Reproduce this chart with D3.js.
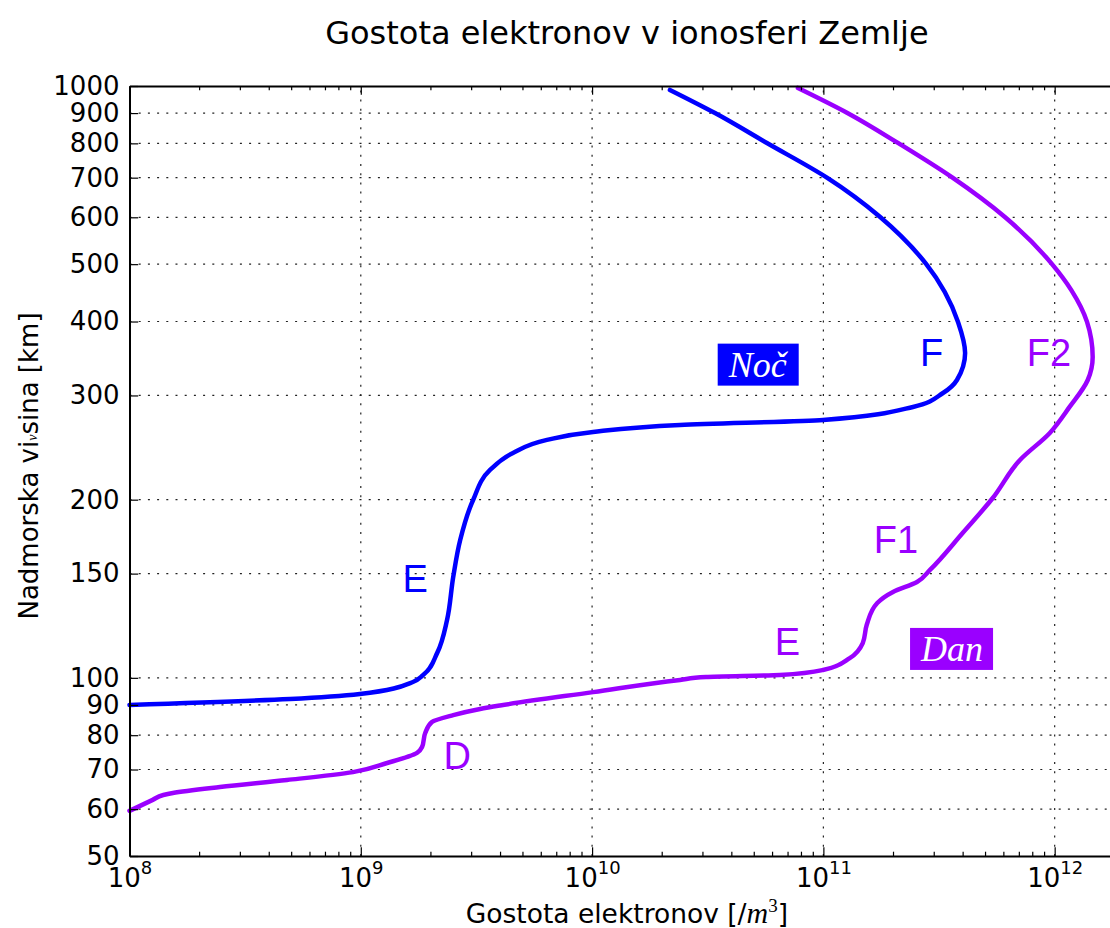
<!DOCTYPE html>
<html><head><meta charset="utf-8">
<script src="https://cdn.jsdelivr.net/npm/d3@7"></script>
<style>
html,body{margin:0;padding:0;background:#fff;overflow:hidden;}
svg{display:block;}
</style></head><body>
<svg id="chart" width="1110" height="928"></svg>
<script>
// ---- data (electron density [/m^3] vs. altitude [km]) ----
const nightDensity = [1.0e8, 4.94e8, 9.9e8, 1.68e9, 1.86e9, 2.14e9, 2.36e9, 2.51e9, 2.69e9, 3.06e9, 3.62e9, 4.55e9, 6.38e9, 1.01e10, 2.4e10, 9.96e10, 2.44e11, 3.29e11, 3.78e11, 4.1e11, 3.82e11, 2.78e11, 1.76e11, 1.04e11, 5.7e10, 3.4e10, 2.17e10];
const nightHeight  = [90, 92.1, 93.9, 98.4, 101.1, 110.2, 125.2, 148.1, 171, 199.8, 224.5, 239.9, 252.4, 260.3, 267.4, 272.7, 286.9, 302.9, 318.6, 354, 399.4, 500.6, 600.7, 699.4, 801, 900, 984.7];

const dayDensity = [1.0e8, 1.26e8, 1.40e8, 1.54e8, 2.46e8, 4.8e8, 9.25e8, 1.30e9, 1.75e9, 1.84e9, 1.90e9, 2.03e9, 2.51e9, 3.28e9, 4.0e9, 1.01e10, 2.40e10, 3.11e10, 6.48e10, 9.96e10, 1.30e11, 1.48e11, 1.54e11, 1.71e11, 2.0e11, 2.54e11, 2.89e11, 4.0e11, 5.4e11, 7.08e11, 9.53e11, 1.16e12, 1.39e12, 1.46e12, 1.38e12, 1.18e12, 9.72e11, 6.09e11, 3.63e11, 2.1e11, 1.27e11, 7.76e10];
const dayHeight  = [59.6, 62.2, 63.4, 63.9, 65.4, 67.2, 69.3, 71.8, 74.7, 76.4, 80.7, 84.2, 86.5, 88.6, 89.8, 94.6, 99.2, 100.3, 101.1, 103.1, 108.0, 114.5, 122.9, 133.8, 139.7, 145.2, 152.2, 175.7, 201.3, 233.4, 259.3, 286.9, 318.6, 348.5, 399.4, 452, 500.6, 600.7, 699.4, 801.4, 900.5, 992.4];

const xDomain = [1e8, 2e12];
const yDomain = [50, 1000];
const xMajorTicks = [1e8, 1e9, 1e10, 1e11, 1e12];
const yTicks = [50, 60, 70, 80, 90, 100, 150, 200, 300, 400, 500, 600, 700, 800, 900, 1000];

const layerLabels = [
  {text: "E",  series: "night", n: 1.72e9,  h: 139.7},
  {text: "F",  series: "night", n: 2.94e11, h: 336.9},
  {text: "D",  series: "day",   n: 2.61e9,  h: 70.2},
  {text: "E",  series: "day",   n: 7.0e10,  h: 109.3},
  {text: "F1", series: "day",   n: 2.06e11, h: 162.7},
  {text: "F2", series: "day",   n: 9.44e11, h: 336.9}
];
const boxLabels = [
  {text: "Noč", series: "night", n: 5.2e10, h: 322.8},
  {text: "Dan", series: "day",   n: 3.6e11, h: 106.8}
];

const titleText = "Gostota elektronov v ionosferi Zemlje";
const colors = {night: "#0000ff", day: "#9a00ff"};

// ---- layout ----
const L = 129.5, R = 1124.3, T = 86, B = 856;
const svg = d3.select("#chart");
const x = d3.scaleLog().domain(xDomain).range([L, R]);
const y = d3.scaleLog().domain(yDomain).range([B, T]);

const minorTicks = [];
for (let k = 8; k <= 12; k++) for (let m = 2; m <= 9; m++) {
  const v = m * Math.pow(10, k);
  if (v <= xDomain[1]) minorTicks.push(v);
}

// grid
const grid = svg.append("g").attr("stroke", "#222").attr("stroke-width", 1.2).attr("stroke-dasharray", "2,7.2");
grid.selectAll("line.v").data(xMajorTicks.filter(d => d > xDomain[0])).join("line")
  .attr("class", "v").attr("x1", d => x(d)).attr("x2", d => x(d)).attr("y1", B).attr("y2", T);
grid.selectAll("line.h").data(yTicks.filter(d => d > yDomain[0] && d < yDomain[1])).join("line")
  .attr("class", "h").attr("x1", L).attr("x2", R).attr("y1", d => y(d)).attr("y2", d => y(d));

// curves (density as a smooth function of altitude)
const line = d3.line().x(d => x(d[0])).y(d => y(d[1])).curve(d3.curveMonotoneY);
const nightPts = d3.zip(nightDensity, nightHeight).reverse();
const dayPts = d3.zip(dayDensity, dayHeight).reverse();
svg.append("path").datum(nightPts).attr("d", line)
  .attr("fill", "none").attr("stroke", colors.night).attr("stroke-width", 4.5).attr("stroke-linejoin", "round").attr("stroke-linecap", "round");
svg.append("path").datum(dayPts).attr("d", line)
  .attr("fill", "none").attr("stroke", colors.day).attr("stroke-width", 4.5).attr("stroke-linejoin", "round").attr("stroke-linecap", "round");

// axes
function styleAxis(g) {
  g.select(".domain").attr("stroke", "#000").attr("stroke-width", 2);
  g.selectAll(".tick line").attr("stroke", "#000").attr("stroke-width", 1.2);
}
const gB = svg.append("g").attr("transform", `translate(0,${B})`)
  .call(d3.axisBottom(x).tickValues(xMajorTicks).tickSizeInner(-8.7).tickSizeOuter(0).tickFormat(() => "10"));
styleAxis(gB);
gB.selectAll(".tick text").attr("y", 31).attr("dy", 0)
  .attr("font-family", "DejaVu Sans").attr("font-size", 26).attr("fill", "#000")
  .append("tspan").attr("dy", -13).attr("font-size", 18).text(d => Math.round(Math.log10(d)));
const gBm = svg.append("g").attr("transform", `translate(0,${B})`)
  .call(d3.axisBottom(x).tickValues(minorTicks).tickSizeInner(-4.3).tickSizeOuter(0).tickFormat(() => ""));
gBm.select(".domain").remove();
gBm.selectAll(".tick line").attr("stroke", "#000").attr("stroke-width", 1.2);

const gT = svg.append("g").attr("transform", `translate(0,${T})`)
  .call(d3.axisTop(x).tickValues(xMajorTicks).tickSizeInner(-8.7).tickSizeOuter(0).tickFormat(() => ""));
styleAxis(gT);
const gTm = svg.append("g").attr("transform", `translate(0,${T})`)
  .call(d3.axisTop(x).tickValues(minorTicks).tickSizeInner(-4.3).tickSizeOuter(0).tickFormat(() => ""));
gTm.select(".domain").remove();
gTm.selectAll(".tick line").attr("stroke", "#000").attr("stroke-width", 1.2);

const gL = svg.append("g").attr("transform", `translate(${L},0)`)
  .call(d3.axisLeft(y).tickValues(yTicks).tickSizeInner(-8.7).tickSizeOuter(0).tickPadding(10).tickFormat(d3.format("d")));
styleAxis(gL);
gL.selectAll(".tick text").attr("font-family", "DejaVu Sans").attr("font-size", 26).attr("fill", "#000");

const gR = svg.append("g").attr("transform", `translate(${R},0)`)
  .call(d3.axisRight(y).tickValues(yTicks).tickSizeInner(-8.7).tickSizeOuter(0).tickFormat(() => ""));
styleAxis(gR);

// layer labels
svg.append("g").selectAll("text").data(layerLabels).join("text")
  .attr("x", d => x(d.n)).attr("y", d => y(d.h))
  .attr("text-anchor", "middle").attr("font-family", "Liberation Sans, Arial, sans-serif")
  .attr("font-size", 38).attr("fill", d => colors[d.series]).text(d => d.text);

// boxed labels
const bg = svg.append("g").selectAll("g").data(boxLabels).join("g");
bg.each(function(d) {
  const g = d3.select(this);
  const rect = g.append("rect").attr("fill", colors[d.series]);
  const t = g.append("text").attr("x", x(d.n)).attr("y", y(d.h)).attr("text-anchor", "middle")
    .attr("font-family", "Liberation Serif, Times New Roman, serif").attr("font-style", "italic")
    .attr("font-size", 36).attr("fill", "#fff").text(d.text);
  const bb = t.node().getBBox();
  rect.attr("x", bb.x - 10).attr("y", bb.y - 1).attr("width", bb.width + 20).attr("height", bb.height + 2);
});

// title
svg.append("text").attr("x", (L + R) / 2).attr("y", 44).attr("text-anchor", "middle")
  .attr("font-family", "DejaVu Sans").attr("font-size", 32).attr("fill", "#000").text(titleText);

// x label
const xl = svg.append("text").attr("x", (L + R) / 2).attr("y", 923).attr("text-anchor", "middle")
  .attr("font-family", "DejaVu Sans").attr("font-size", 26.5).attr("fill", "#000");
xl.append("tspan").text("Gostota elektronov [/");
xl.append("tspan").attr("font-family", "Liberation Serif, serif").attr("font-style", "italic").attr("font-size", 30).text("m");
xl.append("tspan").attr("font-family", "Liberation Serif, serif").attr("font-size", 19).attr("dy", -11).text("3");
xl.append("tspan").attr("dy", 11).text("]");

// y label (with the small "ν" drawn inline, as in the reference)
const yl = svg.append("text").attr("transform", "translate(38,466) rotate(-90)")
  .attr("text-anchor", "middle").attr("font-family", "DejaVu Sans").attr("font-size", 26).attr("fill", "#000");
yl.append("tspan").text("Nadmorska vi");
yl.append("tspan").attr("font-family", "Liberation Serif, serif").attr("font-style", "italic")
  .attr("font-size", 14).attr("dy", -1).text("ν");
yl.append("tspan").attr("dy", 1).text("sina [km]");
</script>
</body></html>
